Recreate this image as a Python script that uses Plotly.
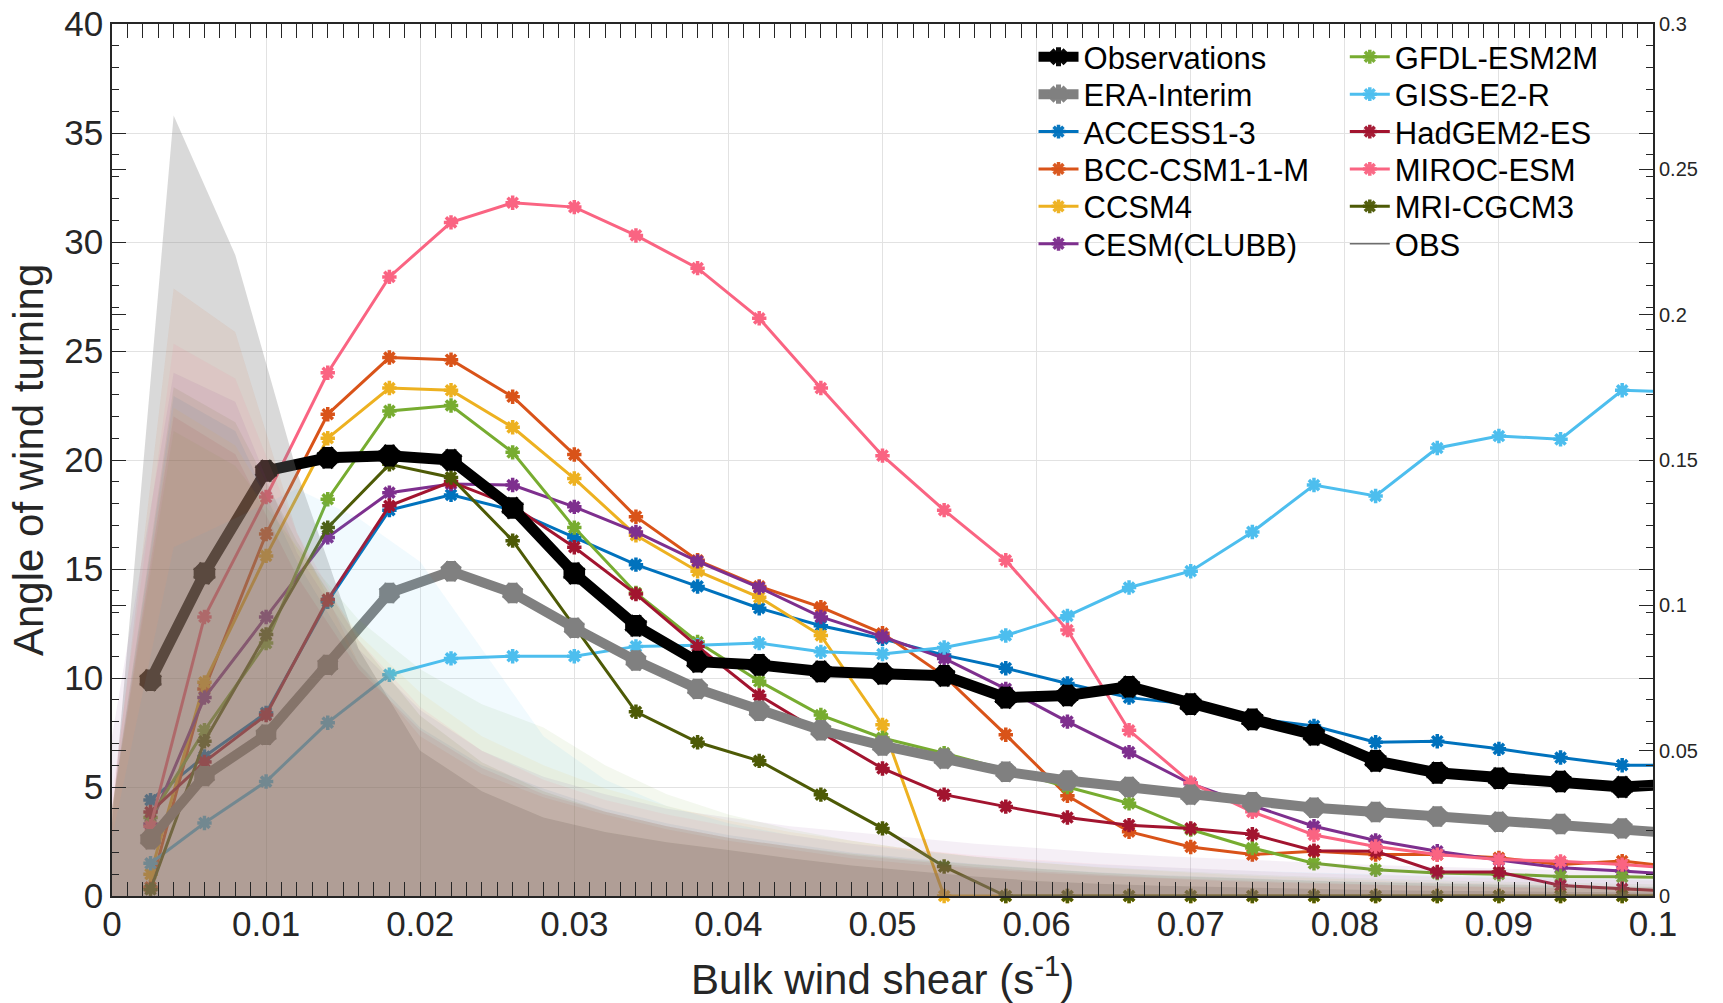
import plotly.graph_objects as go

# Bin centres of bulk wind shear (s^-1); last point lies just past the axis edge
shear = [0.0025, 0.006, 0.010, 0.014, 0.018, 0.022, 0.026, 0.030, 0.034, 0.038,
         0.042, 0.046, 0.050, 0.054, 0.058, 0.062, 0.066, 0.070, 0.074, 0.078,
         0.082, 0.086, 0.090, 0.094, 0.098, 0.102]

# Mean angle of wind turning (degrees) per shear bin
observations = [9.9, 14.8, 19.5, 20.1, 20.2, 20.0, 17.8, 14.8, 12.4, 10.75, 10.6, 10.3, 10.2,
                10.1, 9.1, 9.2, 9.6, 8.8, 8.1, 7.4, 6.2, 5.65, 5.4, 5.25, 5.0, 5.15]
era_interim = [2.6, 5.5, 7.4, 10.6, 13.9, 14.9, 13.9, 12.3, 10.8, 9.5, 8.5, 7.6, 6.9,
               6.3, 5.7, 5.3, 5.0, 4.65, 4.3, 4.05, 3.85, 3.65, 3.4, 3.3, 3.1, 2.85]
access = [4.4, 6.4, 8.4, 13.5, 17.7, 18.4, 17.7, 16.45, 15.2, 14.2, 13.2, 12.4, 11.8,
          11.05, 10.45, 9.75, 9.1, 8.8, 8.15, 7.8, 7.05, 7.1, 6.75, 6.35, 6.0, 6.0]
bcc = [0.4, 9.5, 16.6, 22.1, 24.7, 24.6, 22.9, 20.25, 17.4, 15.4, 14.2, 13.25, 12.05,
       10.1, 7.4, 4.6, 2.95, 2.25, 1.9, 2.05, 1.9, 1.9, 1.75, 1.45, 1.6, 1.3]
ccsm4 = [1.0, 9.8, 15.6, 21.0, 23.3, 23.2, 21.5, 19.15, 16.55, 14.9, 13.7, 11.95, 7.85,
         0, 0, 0, 0, 0, 0, 0, 0, 0, 0, 0, 0, 0]
cesm = [3.3, 9.1, 12.8, 16.45, 18.5, 18.9, 18.85, 17.85, 16.7, 15.35, 14.15, 12.8, 11.9,
        10.9, 9.5, 8.0, 6.6, 5.15, 4.15, 3.2, 2.55, 2.05, 1.65, 1.3, 1.15, 0.95]
gfdl = [3.6, 7.6, 11.6, 18.2, 22.25, 22.5, 20.35, 16.9, 13.9, 11.65, 9.85, 8.3, 7.25,
        6.55, 5.8, 5.0, 4.25, 3.05, 2.2, 1.5, 1.2, 1.05, 1.0, 0.9, 0.88, 0.83]
giss = [1.5, 3.35, 5.25, 7.95, 10.15, 10.9, 11.0, 11.0, 11.45, 11.5, 11.6, 11.2, 11.1,
        11.4, 11.95, 12.85, 14.15, 14.9, 16.7, 18.85, 18.35, 20.55, 21.1, 20.95, 23.2, 23.1]
hadgem = [3.85, 6.15, 8.3, 13.6, 17.9, 19.0, 17.9, 16.0, 13.85, 11.45, 9.2, 7.5, 5.85,
          4.65, 4.1, 3.6, 3.25, 3.1, 2.83, 2.08, 2.05, 1.1, 1.1, 0.48, 0.33, 0.2]
miroc = [3.2, 12.8, 18.3, 24.0, 28.4, 30.9, 31.8, 31.6, 30.3, 28.8, 26.5, 23.3, 20.2,
         17.7, 15.4, 12.2, 7.6, 5.2, 3.86, 2.8, 2.27, 1.9, 1.67, 1.59, 1.44, 1.25]
mri = [0.3, 7.1, 12.0, 16.9, 19.8, 19.2, 16.3, 12.4, 8.45, 7.05, 6.2, 4.65, 3.1,
       1.35, 0, 0, 0, 0, 0, 0, 0, 0, 0, 0, 0, 0]

# Probability density of bulk wind shear (right axis)
pdf_shear = [0.000, 0.004, 0.008, 0.012, 0.016, 0.020, 0.024, 0.028, 0.032, 0.036, 0.040,
             0.044, 0.048, 0.052, 0.056, 0.060, 0.064, 0.068, 0.072, 0.076, 0.080,
             0.084, 0.088, 0.092, 0.096, 0.100]
pdf_obs = [0.025, 0.2685, 0.2205, 0.146, 0.085, 0.050, 0.036, 0.027, 0.022, 0.0185, 0.0158,
           0.013, 0.0105, 0.0085, 0.0067, 0.0052, 0.0042, 0.0035, 0.003, 0.0026, 0.0022,
           0.0019, 0.0017, 0.0015, 0.0013, 0.0012]
pdf_access = [0.03, 0.172, 0.160, 0.115, 0.080, 0.058, 0.045, 0.037, 0.030, 0.025, 0.021,
              0.018, 0.015, 0.013, 0.011, 0.0095, 0.0082, 0.0072, 0.0064, 0.0057, 0.0051,
              0.0046, 0.0042, 0.0038, 0.0035, 0.0032]
pdf_bcc = [0.03, 0.209, 0.194, 0.125, 0.080, 0.055, 0.042, 0.034, 0.028, 0.023, 0.019,
           0.016, 0.013, 0.011, 0.0095, 0.008, 0.007, 0.006, 0.0052, 0.0045, 0.004,
           0.0035, 0.0031, 0.0028, 0.0025, 0.0022]
pdf_ccsm4 = [0.03, 0.168, 0.155, 0.120, 0.090, 0.070, 0.055, 0.045, 0.037, 0.031, 0.026,
             0.022, 0.019, 0.016, 0.0135, 0.0115, 0.0098, 0.0085, 0.0074, 0.0065, 0.0057,
             0.005, 0.0045, 0.004, 0.0036, 0.0032]
pdf_cesm = [0.055, 0.180, 0.170, 0.118, 0.085, 0.064, 0.050, 0.041, 0.035, 0.030, 0.027,
            0.024, 0.022, 0.020, 0.018, 0.0165, 0.015, 0.0138, 0.0128, 0.0118, 0.011,
            0.0103, 0.0097, 0.0092, 0.0088, 0.0085]
pdf_gfdl = [0.03, 0.160, 0.148, 0.120, 0.095, 0.078, 0.066, 0.058, 0.045, 0.035, 0.028,
            0.023, 0.019, 0.016, 0.0135, 0.0115, 0.010, 0.0088, 0.0078, 0.007, 0.0063,
            0.0057, 0.0052, 0.0048, 0.0044, 0.004]
pdf_giss = [0.02, 0.120, 0.130, 0.140, 0.130, 0.115, 0.085, 0.055, 0.040, 0.031, 0.025,
            0.021, 0.018, 0.0155, 0.0135, 0.012, 0.0108, 0.0098, 0.009, 0.0083, 0.0077,
            0.0072, 0.0068, 0.0064, 0.006, 0.0057]
pdf_hadgem = [0.03, 0.165, 0.152, 0.110, 0.078, 0.057, 0.044, 0.035, 0.029, 0.024, 0.020,
              0.017, 0.014, 0.012, 0.010, 0.0085, 0.0073, 0.0063, 0.0055, 0.0048, 0.0042,
              0.0037, 0.0033, 0.003, 0.0027, 0.0024]
pdf_miroc = [0.035, 0.190, 0.178, 0.125, 0.088, 0.065, 0.050, 0.040, 0.033, 0.028, 0.024,
             0.021, 0.018, 0.016, 0.014, 0.0125, 0.011, 0.010, 0.009, 0.0082, 0.0075,
             0.0069, 0.0064, 0.006, 0.0056, 0.0053]
pdf_mri = [0.03, 0.175, 0.163, 0.122, 0.088, 0.062, 0.046, 0.036, 0.029, 0.024, 0.020,
           0.017, 0.0145, 0.0125, 0.0108, 0.0093, 0.008, 0.007, 0.0062, 0.0055, 0.0049,
           0.0044, 0.004, 0.0036, 0.0033, 0.003]

models = [
    ("ACCESS1-3", access, pdf_access, (0, 114, 189)),
    ("BCC-CSM1-1-M", bcc, pdf_bcc, (217, 83, 25)),
    ("CCSM4", ccsm4, pdf_ccsm4, (237, 177, 32)),
    ("CESM(CLUBB)", cesm, pdf_cesm, (126, 47, 142)),
    ("GFDL-ESM2M", gfdl, pdf_gfdl, (119, 172, 48)),
    ("GISS-E2-R", giss, pdf_giss, (77, 190, 238)),
    ("HadGEM2-ES", hadgem, pdf_hadgem, (162, 20, 47)),
    ("MIROC-ESM", miroc, pdf_miroc, (250, 100, 130)),
    ("MRI-CGCM3", mri, pdf_mri, (77, 90, 6)),
]

# two-column legend layout (column-major)
legend_order = ["Observations", "ERA-Interim", "ACCESS1-3", "BCC-CSM1-1-M", "CCSM4",
                "CESM(CLUBB)", "GFDL-ESM2M", "GISS-E2-R", "HadGEM2-ES", "MIROC-ESM",
                "MRI-CGCM3", "OBS"]

FONT = "Liberation Sans, Arial, Helvetica, sans-serif"
AXIS_COLOR = "#262626"


def rgb(c, a=None):
    if a is None:
        return "rgb(%d,%d,%d)" % c
    return "rgba(%d,%d,%d,%.3f)" % (c + (a,))


def legend_id(name):
    k = legend_order.index(name) + 1
    return "legend" if k == 1 else "legend%d" % k


# hide the marker of the point that sits beyond the right edge
n_vis = sum(1 for s in shear if s <= 0.1)
vis = [1] * n_vis + [0] * (len(shear) - n_vis)

fig = go.Figure()

# shaded shear distributions
fig.add_trace(go.Scatter(x=pdf_shear, y=pdf_obs, yaxis="y2", mode="lines",
                         line=dict(width=0, color=rgb((128, 128, 128))),
                         fill="tozeroy", fillcolor=rgb((128, 128, 128), 0.30),
                         showlegend=False, hoverinfo="skip"))
for name, _, pdf, col in models:
    fig.add_trace(go.Scatter(x=pdf_shear, y=pdf, yaxis="y2", mode="lines",
                             line=dict(width=0, color=rgb(col)),
                             fill="tozeroy", fillcolor=rgb(col, 0.08),
                             showlegend=False, hoverinfo="skip"))

# model curves
for name, vals, _, col in models:
    fig.add_trace(go.Scatter(
        x=shear, y=vals, name=name, mode="lines+markers",
        line=dict(color=rgb(col), width=3),
        marker=dict(symbol="asterisk-open", size=[12 * v for v in vis], opacity=vis,
                    color=rgb(col), line=dict(color=rgb(col), width=3.5)),
        cliponaxis=False, legend=legend_id(name)))

# reanalysis and observations
fig.add_trace(go.Scatter(
    x=shear, y=era_interim, name="ERA-Interim", mode="lines+markers",
    line=dict(color="#808080", width=10),
    marker=dict(symbol="asterisk-open", size=[17 * v for v in vis], opacity=vis,
                color="#808080", line=dict(color="#808080", width=10)),
    cliponaxis=False, legend=legend_id("ERA-Interim")))
fig.add_trace(go.Scatter(
    x=shear, y=observations, name="Observations", mode="lines+markers",
    line=dict(color="black", width=11),
    marker=dict(symbol="asterisk-open", size=[18 * v for v in vis], opacity=vis,
                color="black", line=dict(color="black", width=11)),
    cliponaxis=False, legend=legend_id("Observations")))

# legend entry for the observed shear distribution
fig.add_trace(go.Scatter(x=[None], y=[None], name="OBS", mode="lines",
                         line=dict(color="#6e6e6e", width=1.5),
                         legend=legend_id("OBS")))

# one single-entry legend per row so the row pitch can be set exactly
legend_layout = {}
col_x = [0.598, 0.800]
row_px = 37.4
for k, name in enumerate(legend_order):
    col, row = divmod(k, 6)
    y_px = 57.1 + row_px * row
    legend_layout[legend_id(name)] = dict(
        x=col_x[col], y=(896 - y_px) / 872, xanchor="left", yanchor="middle",
        bgcolor="rgba(0,0,0,0)", borderwidth=0, itemwidth=40,
        font=dict(family=FONT, size=31, color="black"))

axis_common = dict(
    showline=True, linecolor=AXIS_COLOR, linewidth=1.5, automargin=False,
    ticks="inside", ticklen=14, tickwidth=1.3, tickcolor=AXIS_COLOR,
    zeroline=False, tickfont=dict(family=FONT, size=35, color=AXIS_COLOR),
)

fig.update_layout(
    width=1723, height=1003,
    margin=dict(l=112, r=70, t=24, b=107, autoexpand=False),
    paper_bgcolor="white", plot_bgcolor="white",
    font=dict(family=FONT, color=AXIS_COLOR),
    xaxis=dict(range=[0, 0.1], tick0=0, dtick=0.01, mirror="allticks",
               showgrid=True, gridcolor="#e2e2e2", gridwidth=1.2, ticklabelstandoff=-4,
               minor=dict(dtick=0.001, ticks="inside", ticklen=7, tickcolor=AXIS_COLOR,
                          tickwidth=1, showgrid=False),
               **axis_common),
    yaxis=dict(range=[0, 40], tick0=0, dtick=5, mirror="allticks",
               showgrid=True, gridcolor="#e2e2e2", gridwidth=1.2,
               minor=dict(dtick=1, ticks="inside", ticklen=7, tickcolor=AXIS_COLOR,
                          tickwidth=1, showgrid=False),
               **axis_common),
    yaxis2=dict(overlaying="y", side="right", range=[0, 0.3], tick0=0, dtick=0.05,
                showline=False, showgrid=False, zeroline=False, mirror="ticks",
                automargin=False, ticklabelstandoff=5,
                ticks="inside", ticklen=14, tickwidth=1.3, tickcolor=AXIS_COLOR,
                tickfont=dict(family=FONT, size=20, color=AXIS_COLOR)),
    annotations=[
        dict(text="Angle of wind turning", xref="paper", yref="paper",
             x=-0.0545, y=0.5, xanchor="center", yanchor="middle", textangle=-90,
             showarrow=False, font=dict(family=FONT, size=42, color=AXIS_COLOR)),
        dict(text="Bulk wind shear (s<sup>-1</sup>)", xref="paper", yref="paper",
             x=0.5, y=-0.1255, xanchor="center", yanchor="bottom",
             showarrow=False, font=dict(family=FONT, size=42, color=AXIS_COLOR)),
    ],
    **legend_layout,
)

fig.write_html("out.html")
